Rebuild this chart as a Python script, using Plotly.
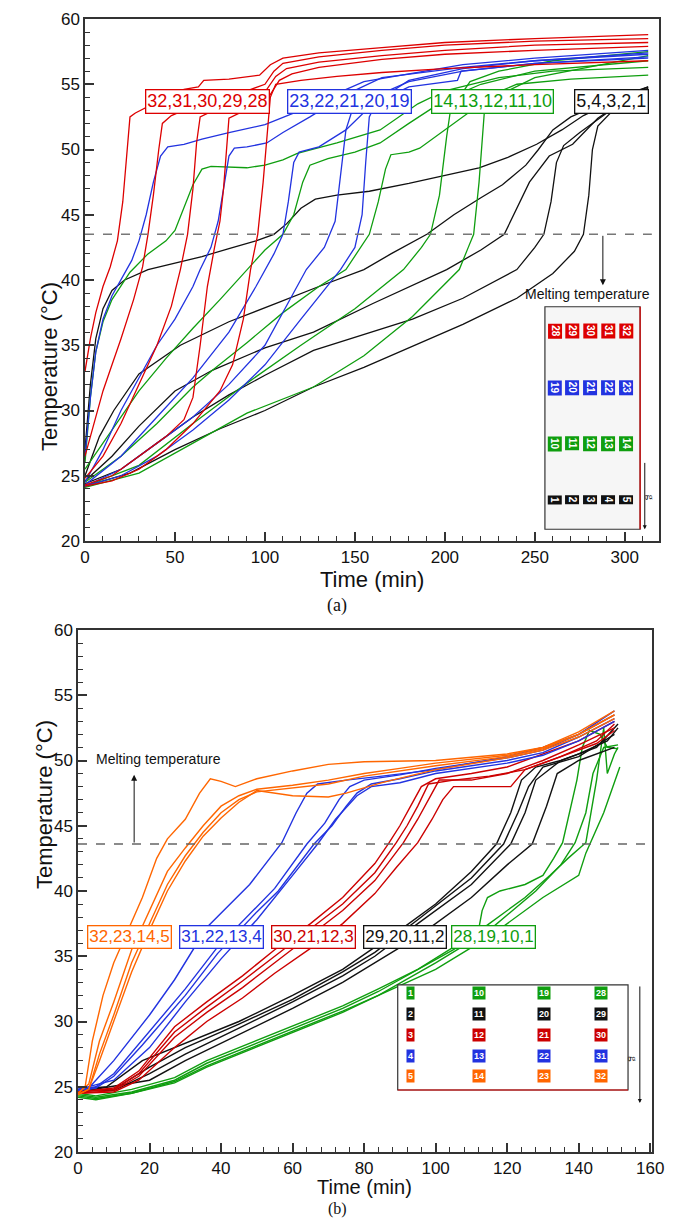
import plotly.graph_objects as go

# ---------------- (a) curves: (time [min], temperature [C]) ----------------
a_red_1 = [(0, 33), (3, 35.5), (6, 37.5), (10, 39.5), (14, 41), (18, 43), (21, 46), (23, 49.5), (25, 52.5),
           (28, 52.8), (35, 53.3), (45, 54), (55, 54.6), (63, 54.8), (66, 55.3), (80, 55.4), (97, 55.7),
           (103, 56.5), (110, 57), (130, 57.4), (165, 57.8), (200, 58.2), (250, 58.5), (313, 58.8)]
a_red_2 = [(0, 26.5), (5, 29), (10, 31.5), (15, 33.5), (20, 35.5), (27, 38.5), (32, 41), (35, 43.5), (38, 46.5),
           (41, 50), (43, 52), (48, 52.6), (60, 53.3), (75, 54), (90, 54.5), (100, 55), (105, 56), (110, 56.6),
           (130, 57.1), (165, 57.6), (200, 58), (250, 58.3), (313, 58.5)]
a_red_3 = [(0, 24.8), (10, 26.5), (20, 29), (30, 32), (40, 35), (48, 38), (53, 40.8), (57, 43.5), (60, 47),
           (62, 50.5), (64, 52.5), (70, 52.9), (85, 53.6), (100, 54.4), (106, 55.6), (112, 56.2), (130, 56.7),
           (165, 57.2), (200, 57.6), (250, 58), (313, 58.2)]
a_red_4 = [(0, 24.3), (15, 25), (30, 26.5), (45, 28), (55, 29.3), (60, 31), (64, 35), (68, 39.5), (72, 42.5),
           (75, 44.5), (77, 47), (79, 51), (80, 52.4), (86, 52.8), (95, 53.3), (102, 54), (108, 55.3),
           (115, 55.8), (130, 56.3), (165, 56.9), (200, 57.3), (250, 57.6), (313, 57.9)]
a_red_5 = [(0, 24.2), (15, 24.6), (30, 25.5), (45, 27), (60, 29), (75, 31.5), (82, 33.5), (88, 37), (92, 40.8),
           (96, 43.5), (99, 47.5), (101, 51), (103, 54), (106, 55), (120, 55.3), (140, 55.6), (165, 55.9),
           (200, 56.2), (250, 56.5), (313, 56.8)]

a_blue_1 = [(0, 26.5), (3, 31), (6, 34.5), (10, 37), (15, 38.8), (20, 40), (26, 41.5), (30, 43), (34, 45),
            (38, 47.5), (42, 49.5), (46, 50.2), (55, 50.4), (65, 50.8), (80, 51.3), (100, 51.9), (118, 52.9),
            (135, 54), (155, 55.2), (180, 55.8), (210, 56.5), (250, 57), (313, 57.6)]
a_blue_2 = [(0, 24.5), (10, 27), (20, 30), (30, 32.5), (40, 35), (50, 37), (60, 39.5), (64, 40.8), (70, 42.5),
            (74, 44.5), (77, 47), (80, 49.5), (83, 50.1), (90, 50.2), (101, 50.5), (110, 51.3), (125, 52.5),
            (145, 54.2), (165, 55.5), (210, 56.3), (250, 56.8), (313, 57.4)]
a_blue_3 = [(0, 24.3), (20, 26.5), (40, 29.5), (60, 32.5), (80, 36), (95, 39.5), (105, 42), (110, 43.5),
            (113, 46), (116, 49), (119, 49.8), (130, 50.2), (145, 51.5), (160, 53.5), (180, 55.3), (210, 56.2),
            (250, 56.8), (313, 57.3)]
a_blue_4 = [(0, 24.2), (20, 25.5), (40, 27.5), (60, 29.5), (80, 32), (100, 35), (123, 40.8), (133, 42.5),
            (139, 44.5), (142, 48), (145, 51.5), (148, 52.8), (160, 54), (180, 55.2), (210, 56), (250, 56.6),
            (313, 57.1)]
a_blue_5 = [(0, 24.2), (20, 25), (40, 26.5), (60, 28.5), (80, 30.8), (100, 33.5), (120, 37), (142, 40.8),
            (150, 42.5), (154, 45), (156, 49), (158, 52.5), (162, 53.6), (180, 54.8), (207, 55.3), (209, 56),
            (250, 56.6), (313, 57)]

a_green_1 = [(0, 26), (3, 31), (6, 34.5), (10, 36.8), (15, 38.5), (25, 40.6), (35, 42), (45, 43), (50, 43.8),
             (55, 45.5), (60, 47.3), (65, 48.5), (70, 48.7), (90, 48.6), (100, 48.8), (110, 49.2), (118, 49.7),
             (140, 50.5), (164, 51.5), (185, 53.5), (200, 54.5), (230, 55.5), (260, 56), (313, 56.3)]
a_green_2 = [(0, 25.5), (10, 27.5), (20, 29.5), (30, 31.5), (45, 34), (60, 36.3), (75, 38.5), (90, 40.8),
             (100, 42.3), (110, 43.5), (116, 45), (121, 47.5), (125, 48.8), (135, 49.3), (150, 49.8), (164, 50.5),
             (180, 52), (200, 53.8), (220, 55), (250, 56), (313, 56.8)]
a_green_3 = [(0, 24.5), (20, 26.5), (40, 29), (60, 31.8), (71, 33.1), (90, 35.2), (110, 37.5), (130, 39.5),
             (145, 40.8), (153, 42.5), (158, 43.5), (163, 46), (167, 48.5), (170, 49.6), (180, 49.8),
             (186, 50.1), (200, 51.5), (220, 53.5), (250, 55.5), (313, 57.2)]
a_green_4 = [(0, 24.2), (30, 25.8), (60, 29), (90, 32.1), (120, 35), (150, 37.8), (177, 40.8), (187, 42.5),
             (192, 43.5), (197, 46.5), (201, 51), (203, 52.9), (208, 54), (214, 55.2), (230, 56), (260, 56.8),
             (313, 57.5)]
a_green_5 = [(0, 24.1), (30, 25.2), (60, 27.5), (90, 29.8), (127, 31.8), (155, 34.2), (182, 37.2), (208, 40.8),
             (213, 42.5), (216, 43.5), (219, 47.5), (222, 53), (228, 54.3), (240, 55), (270, 55.4), (313, 55.7)]

a_black_1 = [(0, 27), (3, 32), (6, 35.5), (10, 37.8), (15, 39.2), (22, 40), (35, 40.8), (50, 41.3), (65, 41.8),
             (80, 42.4), (95, 43), (105, 43.5), (112, 44.3), (120, 45.5), (128, 46.2), (140, 46.5), (158, 46.8),
             (180, 47.4), (200, 48), (219, 48.6), (235, 49.4), (251, 50.4), (265, 51.5), (277, 52.6),
             (295, 53.8), (313, 54.8)]
a_black_2 = [(0, 25), (8, 28), (16, 30), (30, 32.8), (53, 35), (80, 36.8), (108, 38.3), (130, 39.5), (155, 40.8),
             (170, 42), (190, 43.5), (205, 45), (220, 46.3), (232, 47.3), (245, 48.8), (252, 50), (260, 51.5),
             (270, 52.5), (285, 53.4), (300, 54.2), (313, 54.8)]
a_black_3 = [(0, 24.6), (15, 26.5), (30, 28.8), (50, 31.5), (71, 33.1), (100, 34.8), (127, 36), (160, 38.2),
             (201, 40.8), (220, 42.3), (233, 43.5), (240, 45.5), (247, 47.5), (258, 49.5), (271, 50.4),
             (285, 52.4), (300, 53.8), (313, 54.7)]
a_black_4 = [(0, 24.4), (20, 25.5), (40, 27.5), (60, 29.5), (80, 31.2), (100, 32.7), (127, 34.6), (155, 35.8),
             (182, 37), (210, 38.6), (240, 40.8), (250, 42.5), (255, 43.5), (259, 46), (262, 49), (266, 50.3),
             (275, 51.3), (290, 52.8), (305, 53.9), (313, 54.6)]
a_black_5 = [(0, 24.2), (25, 25.2), (50, 27), (75, 28.6), (100, 30), (127, 31.8), (155, 33.3), (182, 34.9),
             (210, 36.6), (240, 38.6), (260, 40.5), (272, 42.2), (277, 43.5), (280, 46.5), (282, 50),
             (285, 51.8), (292, 52.8), (305, 53.8), (313, 54.5)]

# ---------------- (b) curves ----------------
b_orange_1 = [(0, 24.5), (2, 25), (4, 28.5), (7, 32), (10, 34.5), (14, 37), (18, 39.5), (22, 42.5), (25, 44),
              (30, 45.5), (34, 47.5), (37, 48.6), (40, 48.4), (44, 48), (50, 48.6), (60, 49.2), (70, 49.7),
              (80, 49.9), (100, 50), (120, 50.5), (130, 51), (140, 52), (150, 53.5)]
b_orange_2 = [(0, 24.5), (3, 25.2), (6, 28.5), (10, 31.5), (15, 35.5), (20, 38.5), (25, 41.5), (30, 43.3),
              (35, 45), (40, 46.5), (45, 47.3), (50, 47.8), (60, 48.1), (70, 48.5), (80, 49), (90, 49.4),
              (100, 49.8), (120, 50.4), (130, 51), (140, 52.2), (150, 53.8)]
b_orange_3 = [(0, 24.4), (3, 24.8), (6, 27.5), (10, 30.5), (15, 34.5), (20, 37.5), (25, 40.5), (30, 42.7),
              (35, 44.5), (40, 46), (45, 47), (50, 47.6), (60, 47.9), (70, 48.2), (80, 48.8), (90, 49.2),
              (100, 49.6), (120, 50.3), (130, 50.9), (140, 52), (150, 53.5)]
b_orange_4 = [(0, 24.4), (3, 24.8), (6, 27), (10, 30), (15, 33.8), (20, 37), (25, 40), (30, 42.3), (35, 44.2),
              (40, 45.6), (45, 46.8), (50, 47.7), (55, 47.5), (60, 47.3), (70, 47.2), (75, 47.5), (85, 48.3),
              (100, 49.3), (120, 50.2), (130, 50.8), (140, 51.8), (150, 53.2)]

b_blue_1 = [(0, 24.8), (3, 24.9), (10, 27), (20, 30.5), (27, 33.2), (36, 37.2), (48, 40.5), (57, 43.7), (61, 46),
            (64, 47.5), (67, 48.2), (75, 48.5), (85, 48.8), (100, 49.3), (110, 49.8), (120, 50.3), (130, 51),
            (140, 52), (150, 53.8)]
b_blue_2 = [(0, 24.8), (5, 25), (10, 26), (18, 28.6), (30, 32.5), (39, 35.7), (50, 38.8), (55, 40.2),
            (64, 43.6), (69, 45.2), (73, 47), (76, 48), (80, 48.5), (90, 48.9), (100, 49.4), (120, 50.2),
            (130, 50.8), (140, 52), (150, 53.5)]
b_blue_3 = [(0, 24.7), (5, 24.9), (10, 25.8), (18, 28.2), (30, 32), (39, 35.2), (50, 38.4), (56, 40),
            (66, 43.6), (71, 45), (75, 46.5), (78, 47.5), (82, 48.2), (90, 48.6), (100, 49.2), (120, 50),
            (130, 50.6), (140, 51.8), (150, 53.2)]
b_blue_4 = [(0, 24.8), (10, 25.5), (20, 28), (30, 31.5), (40, 34.8), (50, 37.8), (60, 41.2), (67, 43.6),
            (72, 45.5), (78, 47.3), (82, 48), (90, 48.3), (100, 49), (120, 49.8), (130, 50.4), (140, 51.5),
            (150, 53)]

b_red_1 = [(0, 24.6), (10, 24.9), (17, 26.2), (27, 29.6), (36, 31.5), (46, 33.5), (55, 35.5), (65, 37.5),
           (74, 39.5), (83, 42.1), (87, 43.7), (90, 45), (93, 46.5), (96, 48), (100, 48.6), (110, 49),
           (120, 49.5), (130, 50.5), (140, 51.5), (150, 53)]
b_red_2 = [(0, 24.6), (10, 24.8), (17, 26), (27, 29.2), (36, 31.1), (46, 33.1), (55, 35), (65, 37.1), (74, 39),
           (83, 41.4), (89, 43.7), (92, 45), (95, 46.5), (98, 48.2), (105, 48.5), (115, 48.8), (125, 49.3),
           (135, 50.3), (145, 51.5), (150, 52.8)]
b_red_3 = [(0, 24.5), (10, 24.7), (17, 25.8), (27, 28.8), (36, 30.7), (46, 32.6), (55, 34.5), (65, 36.6),
           (74, 38.5), (83, 40.8), (91, 43.7), (95, 45.5), (98, 47), (101, 48.5), (110, 48.5), (120, 49),
           (130, 50), (140, 51.2), (150, 52.5)]
b_red_4 = [(0, 24.5), (10, 24.6), (17, 25.5), (27, 28), (36, 30), (46, 31.8), (55, 33.7), (65, 35.6),
           (74, 37.5), (83, 39.8), (89, 41.8), (95, 43.7), (99, 45.5), (102, 47), (105, 48), (115, 48),
           (121, 48), (125, 49.3), (135, 50.3), (145, 51.3), (150, 52.3)]

b_black_1 = [(0, 24.8), (8, 25), (18, 27), (27, 28), (45, 30), (60, 32), (74, 34), (83, 35.7), (90, 37),
             (100, 39), (110, 41.5), (117, 43.6), (121, 46), (124, 48.5), (128, 49.5), (135, 50), (140, 50.5),
             (148, 51.5), (151, 52.5)]
b_black_2 = [(0, 24.7), (10, 24.8), (20, 26.5), (30, 28), (45, 29.8), (60, 31.7), (74, 33.8), (83, 35.3),
             (95, 37.8), (110, 41), (119, 43.6), (123, 46), (126, 48), (130, 49.5), (140, 50.3), (150, 52)]
b_black_3 = [(0, 24.7), (10, 24.7), (20, 26), (30, 27.5), (45, 29.5), (60, 31.5), (74, 33.5), (83, 35),
             (95, 37.5), (110, 40.5), (121, 43.6), (125, 46), (128, 48.5), (135, 50), (145, 51), (151, 52.8)]
b_black_4 = [(0, 24.6), (20, 25.5), (30, 27), (45, 29), (60, 31), (74, 33), (83, 34.5), (95, 36.5),
             (110, 39.5), (120, 42), (127, 43.6), (131, 46.5), (134, 49), (140, 50), (150, 51)]

b_green_1 = [(0, 24.5), (5, 24.3), (15, 24.8), (27, 25.7), (36, 27), (55, 29.1), (74, 31.2), (84, 32.5),
             (95, 34), (105, 35.7), (112, 37), (113, 38.5), (114.5, 39.5), (118, 40), (125, 40.5), (130, 41.2),
             (133, 42.5), (135.5, 43.7), (137.5, 46), (139.5, 48.5), (141, 51), (143, 52.3), (146, 52),
             (148, 51), (151, 50.9)]
b_green_2 = [(0, 24.4), (5, 24.2), (15, 24.6), (27, 25.5), (36, 26.8), (55, 28.9), (74, 31), (84, 32.3),
             (95, 34), (105, 35.5), (115, 37.5), (125, 39.5), (132, 41.2), (137, 42.5), (142, 43.7), (145, 48.5),
             (147, 52.5), (148, 49), (150, 50.5), (151, 51)]
b_green_3 = [(0, 24.3), (5, 24.1), (15, 24.5), (27, 25.4), (36, 26.6), (55, 28.7), (74, 30.8), (84, 32),
             (100, 34.5), (115, 37), (128, 40), (135, 42), (139, 43.7), (142, 46), (144, 49), (147, 51),
             (151, 51.2)]
b_green_4 = [(0, 24.2), (5, 24), (15, 24.5), (27, 25.3), (36, 26.5), (55, 28.6), (74, 30.7), (84, 32),
             (100, 34), (115, 36.5), (130, 39.5), (140, 41.2), (142, 42.9), (147, 46), (151.5, 49.5)]

# melting temperature lines
a_melt = 43.5
b_melt = 43.6

# group labels
a_groups = ["32,31,30,29,28", "23,22,21,20,19", "14,13,12,11,10", "5,4,3,2,1"]
b_groups = ["32,23,14,5", "31,22,13,4", "30,21,12,3", "29,20,11,2", "28,19,10,1"]

# inset numbering
a_inset_rows = [[28, 29, 30, 31, 32], [19, 20, 21, 22, 23], [10, 11, 12, 13, 14], [1, 2, 3, 4, 5]]
b_inset_rows = [[1, 10, 19, 28], [2, 11, 20, 29], [3, 12, 21, 30], [4, 13, 22, 31], [5, 14, 23, 32]]

RED = "#dd0000"
BLUE = "#2233e0"
GREEN = "#0f9e0f"
BLACK = "#111111"
ORANGE = "#ff6600"
DRED = "#cc0000"
AXC = "#333333"
FONT = "Arial, Liberation Sans, sans-serif"
SERIF = "Liberation Serif, Times New Roman, serif"

W, H = 673, 1227
OFF = 8  # page body margin of the html output


def px(x):
    return (x - OFF) / W


def py(y):
    return 1 - (y - OFF) / H


def add_curves(fig, curves, color, xa, ya, width):
    for pts in curves:
        t = [p[0] for p in pts]
        T = [p[1] for p in pts]
        fig.add_trace(
            go.Scatter(x=t, y=T, mode="lines", xaxis=xa, yaxis=ya,
                       line=dict(color=color, width=width), hoverinfo="skip")
        )


def axis_style(domain, rng, dtick, minor, anchor):
    return dict(
        domain=domain, range=rng, dtick=dtick, tick0=0, anchor=anchor, automargin=False,
        showgrid=False, zeroline=False, showline=True, linecolor=AXC, linewidth=1.5,
        mirror=True, ticks="inside", ticklen=9, tickwidth=1.5, tickcolor=AXC,
        minor=dict(ticks="inside", ticklen=5, dtick=minor, tickwidth=1, tickcolor=AXC),
        tickfont=dict(family=FONT, size=17, color="#111"),
    )


fig = go.Figure()

# (a)
add_curves(fig, [a_black_1, a_black_2, a_black_3, a_black_4, a_black_5], BLACK, "x", "y", 1.3)
add_curves(fig, [a_green_1, a_green_2, a_green_3, a_green_4, a_green_5], GREEN, "x", "y", 1.3)
add_curves(fig, [a_blue_1, a_blue_2, a_blue_3, a_blue_4, a_blue_5], BLUE, "x", "y", 1.3)
add_curves(fig, [a_red_1, a_red_2, a_red_3, a_red_4, a_red_5], RED, "x", "y", 1.3)

# (b)
add_curves(fig, [b_green_1, b_green_2, b_green_3, b_green_4], GREEN, "x2", "y2", 1.4)
add_curves(fig, [b_black_1, b_black_2, b_black_3, b_black_4], BLACK, "x2", "y2", 1.4)
add_curves(fig, [b_red_1, b_red_2, b_red_3, b_red_4], DRED, "x2", "y2", 1.4)
add_curves(fig, [b_blue_1, b_blue_2, b_blue_3, b_blue_4], BLUE, "x2", "y2", 1.4)
add_curves(fig, [b_orange_1, b_orange_2, b_orange_3, b_orange_4], ORANGE, "x2", "y2", 1.4)

shapes = [
    dict(type="line", xref="x", yref="y", x0=0, x1=315, y0=a_melt, y1=a_melt,
         line=dict(color="#777", width=1.5, dash="dash")),
    dict(type="line", xref="x2", yref="y2", x0=0, x1=160, y0=b_melt, y1=b_melt,
         line=dict(color="#666", width=1.3, dash="dash")),
    # inset (a)
    dict(type="rect", xref="x", yref="y", x0=255.6, x1=308.5, y0=20.9, y1=37.95,
         fillcolor="#f6f6f6", line=dict(color=AXC, width=1.2), layer="above"),
    dict(type="line", xref="x", yref="y", x0=308.5, x1=308.5, y0=20.9, y1=37.95,
         line=dict(color=RED, width=1.2), layer="above"),
    # inset (b)
    dict(type="rect", xref="x2", yref="y2", x0=89.4, x1=153.8, y0=24.75, y1=32.8,
         fillcolor="white", line=dict(color=AXC, width=1.2), layer="above"),
    dict(type="line", xref="x2", yref="y2", x0=89.4, x1=153.8, y0=24.75, y1=24.75,
         line=dict(color=RED, width=1.2), layer="above"),
]

ann = []

# group label boxes
a_colors = [RED, BLUE, GREEN, BLACK]
a_label_x = [68.3, 147, 226.7, 292.8]
for txt, col, xx in zip(a_groups, a_colors, a_label_x):
    ann.append(dict(xref="x", yref="y", x=xx, y=53.7, text=txt, showarrow=False,
                    font=dict(family=FONT, size=18, color=col), bgcolor="white",
                    bordercolor=col, borderwidth=1.3, borderpad=1))

b_colors = [ORANGE, BLUE, DRED, BLACK, GREEN]
b_label_x = [14.3, 40, 65.8, 91.3, 116.2]
for txt, col, xx in zip(b_groups, b_colors, b_label_x):
    ann.append(dict(xref="x2", yref="y2", x=xx, y=36.5, text=txt, showarrow=False,
                    font=dict(family=FONT, size=17, color=col), bgcolor="white",
                    bordercolor=col, borderwidth=1.3, borderpad=1))

# inset (a) numbers
a_cols = [261, 270.6, 280.6, 290.6, 300.6]
a_rows = [36.1, 31.75, 27.46, 23.17]
for row, yy, col in zip(a_inset_rows, a_rows, a_colors):
    for n, xx in zip(row, a_cols):
        ann.append(dict(xref="x", yref="y", x=xx, y=yy, text="<b>%d</b>" % n, showarrow=False,
                        textangle=90, font=dict(family=FONT, size=10, color="white"),
                        bgcolor=col, borderpad=1))

# inset (b) numbers
b_cols = [93, 112, 130.3, 146.2]
b_rows = [32.18, 30.57, 28.97, 27.36, 25.82]
b_row_colors = [GREEN, BLACK, DRED, BLUE, ORANGE]
for row, yy, col in zip(b_inset_rows, b_rows, b_row_colors):
    for n, xx in zip(row, b_cols):
        ann.append(dict(xref="x2", yref="y2", x=xx, y=yy, text="<b>%d</b>" % n, showarrow=False,
                        font=dict(family=FONT, size=9, color="white"),
                        bgcolor=col, borderpad=1))

# melting temperature notes + arrows
ann += [
    dict(xref="x", yref="y", x=279.4, y=38.9, text="Melting temperature", showarrow=False,
         font=dict(family=FONT, size=14, color="#111")),
    dict(xref="x", yref="y", x=287.8, y=39.6, ax=287.8, ay=a_melt, axref="x", ayref="y",
         text="", showarrow=True, arrowhead=2, arrowsize=1.2, arrowwidth=1, arrowcolor="#111"),
    dict(xref="x2", yref="y2", x=4.5, y=50.1, text="Melting temperature", showarrow=False,
         xanchor="left", font=dict(family=FONT, size=14, color="#111")),
    dict(xref="x2", yref="y2", x=15.7, y=48.9, ax=15.7, ay=b_melt, axref="x2", ayref="y2",
         text="", showarrow=True, arrowhead=2, arrowsize=1.2, arrowwidth=1, arrowcolor="#111"),
    # gravity arrows
    dict(xref="x", yref="y", x=311.1, y=20.9, ax=311.1, ay=26.1, axref="x", ayref="y",
         text="", showarrow=True, arrowhead=2, arrowsize=0.8, arrowwidth=1, arrowcolor="#111"),
    dict(xref="x", yref="y", x=314.8, y=23.3, text="g", textangle=90, showarrow=False,
         font=dict(family=SERIF, size=11, color="#111")),
    dict(xref="x2", yref="y2", x=157.1, y=23.75, ax=157.1, ay=32.8, axref="x2", ayref="y2",
         text="", showarrow=True, arrowhead=2, arrowsize=0.8, arrowwidth=1, arrowcolor="#111"),
    dict(xref="x2", yref="y2", x=155.3, y=27.1, text="g", textangle=90, showarrow=False,
         font=dict(family=SERIF, size=11, color="#111")),
    # axis titles and captions
    dict(xref="paper", yref="paper", x=px(35), y=py(280), text="Temperature (°C)", textangle=-90,
         showarrow=False, font=dict(family=FONT, size=22, color="#111")),
    dict(xref="paper", yref="paper", x=px(372), y=py(579), text="Time (min)", showarrow=False,
         font=dict(family=FONT, size=22, color="#111"), borderpad=0),
    dict(xref="paper", yref="paper", x=px(337), y=py(605), text="(a)", showarrow=False,
         font=dict(family=SERIF, size=18, color="#111"), borderpad=0),
    dict(xref="paper", yref="paper", x=px(30), y=py(891), text="Temperature (°C)", textangle=-90,
         showarrow=False, font=dict(family=FONT, size=22, color="#111")),
    dict(xref="paper", yref="paper", x=px(364), y=py(1199), text="Time (min)", showarrow=False,
         font=dict(family=FONT, size=20, color="#111"), borderpad=0),
    dict(xref="paper", yref="paper", x=px(337), y=py(1219), text="(b)", showarrow=False,
         font=dict(family=SERIF, size=16, color="#111"), borderpad=0),
]

fig.update_layout(
    width=W, height=H, margin=dict(l=0, r=0, t=0, b=0, autoexpand=False),
    paper_bgcolor="white", plot_bgcolor="white", showlegend=False,
    xaxis=axis_style([px(85), px(659)], [0, 319], 50, 10, "y"),
    yaxis=axis_style([py(541), py(19)], [20, 60], 5, 1, "x"),
    xaxis2=axis_style([px(78), px(652)], [0, 160.5], 20, 4, "y2"),
    yaxis2=axis_style([py(1152), py(630)], [20, 60], 5, 1, "x2"),
    shapes=shapes, annotations=ann,
)

fig.write_html("out.html")
